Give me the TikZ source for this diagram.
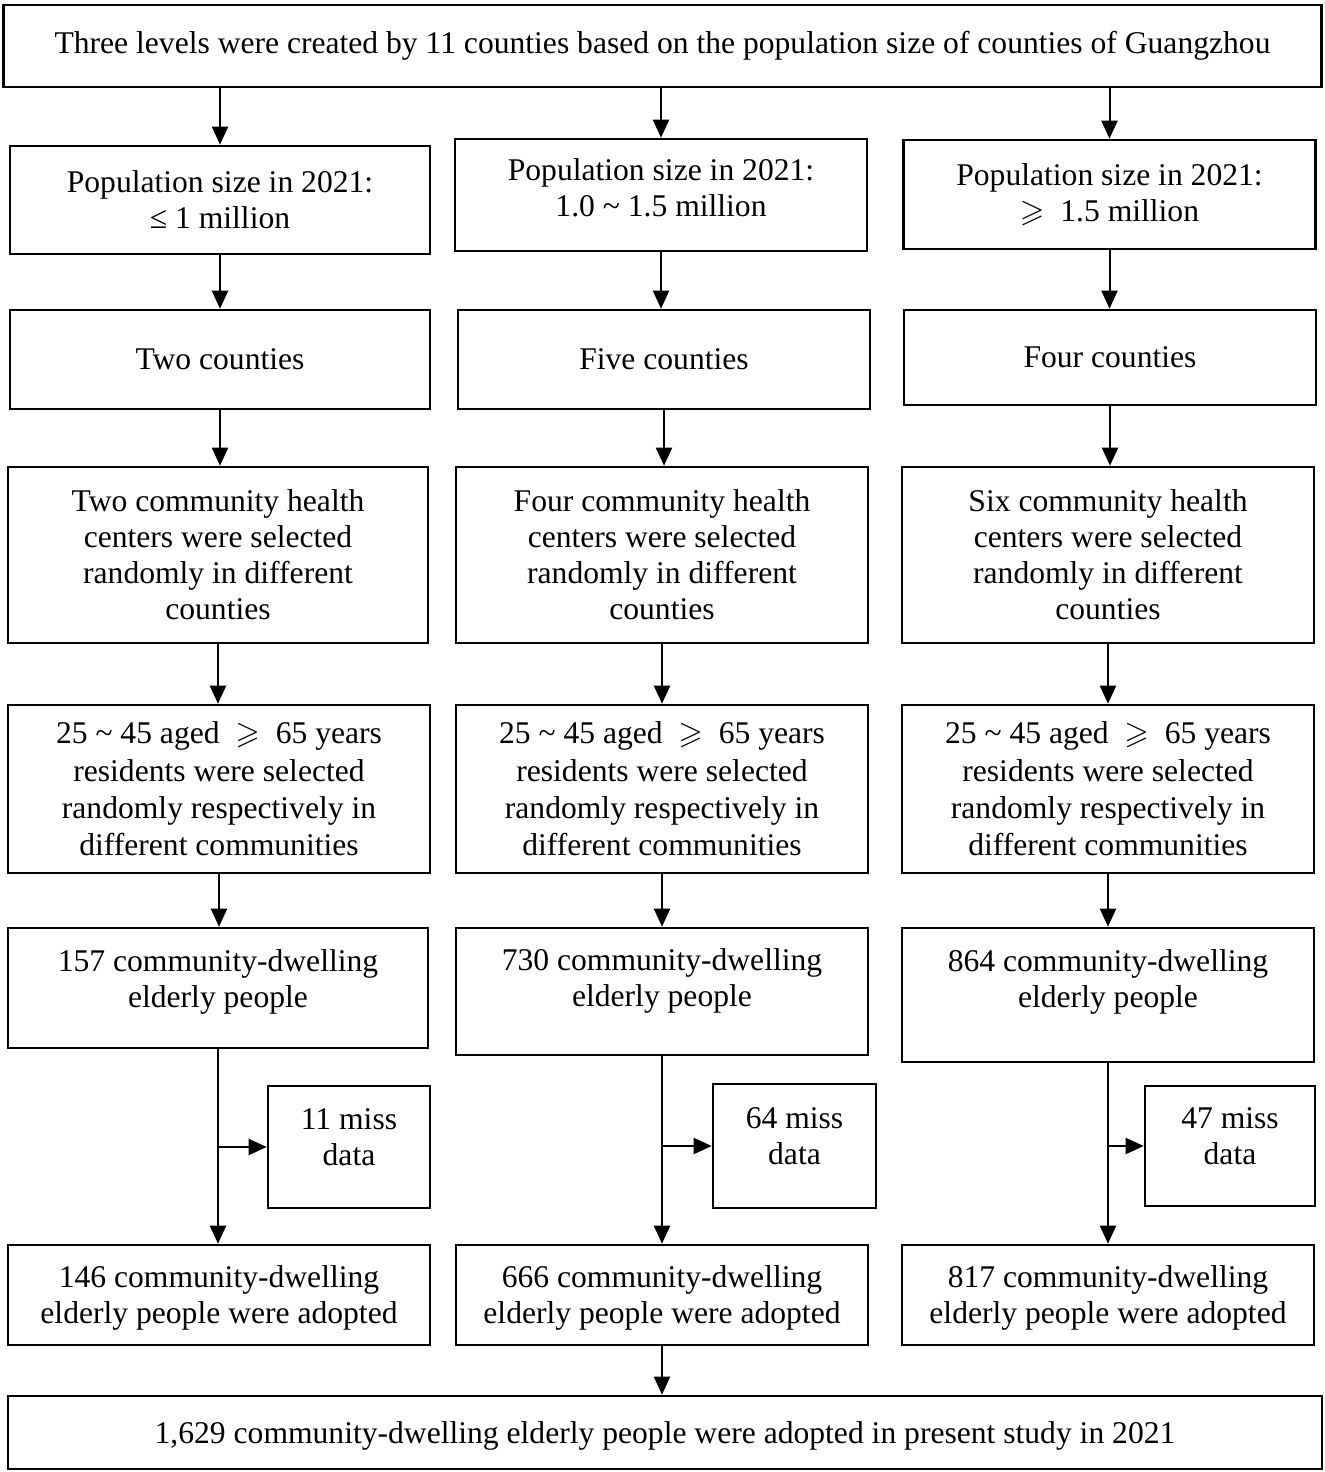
\documentclass[tikz,border=0pt]{standalone}
\usepackage{amssymb}
\usepackage{fontspec}
\setmainfont{Liberation Serif}
\usetikzlibrary{arrows.meta}

\tikzset{
	stagebox/.style={draw, line width=1.3pt, align=center, inner sep=2pt,
		font=\fontsize{15.8}{18}\selectfont},
	widebox/.style={stagebox, font=\fontsize{15.8}{18.7}\selectfont},
	flowarrow/.style={line width=1pt, -{Triangle[length=9pt,width=8pt]}}
}

\begin{document}
\begin{tikzpicture}[x=0.5pt, y=-0.5pt]
		\useasboundingbox (0,0) rectangle (1325,1472);
		
		%top box over all three columns
		\node[stagebox, minimum width=659pt, minimum height=41pt] (levels) at (662.5,46) {Three levels were created by 11 counties based on the population size of counties of Guangzhou};
		
		%first row: population sizes
		\node[stagebox, minimum width=210pt, minimum height=54pt] (popA) at (220,200) {Population size in 2021:\\ ≤ 1 million};
		\node[stagebox, minimum width=206pt, minimum height=56pt, text depth=7.5pt] (popB) at (661,195) {Population size in 2021:\\ 1.0 \textasciitilde{} 1.5 million};
		\node[stagebox, minimum width=206pt, minimum height=54.5pt] (popC) at (1109.5,194.5) {Population size in 2021:\\ $\geqslant$\ \ 1.5 million};
		
		%second row: number of counties
		\node[stagebox, minimum width=210pt, minimum height=49.5pt] (cntA) at (220,359.5) {Two counties};
		\node[stagebox, minimum width=206pt, minimum height=49.5pt] (cntB) at (664,359.5) {Five counties};
		\node[stagebox, minimum width=206pt, minimum height=47.5pt] (cntC) at (1110,357.5) {Four counties};
		
		%third row: health centers
		\node[stagebox, minimum width=210pt, minimum height=88pt] (hcA) at (218,555) {Two community health\\ centers were selected\\ randomly in different\\ counties};
		\node[stagebox, minimum width=206pt, minimum height=88pt] (hcB) at (662,555) {Four community health\\ centers were selected\\ randomly in different\\ counties};
		\node[stagebox, minimum width=206pt, minimum height=88pt] (hcC) at (1108,555) {Six community health\\ centers were selected\\ randomly in different\\ counties};
		
		%fourth row: residents (a little more line spacing)
		\node[widebox, minimum width=211pt, minimum height=84pt] (resA) at (219,789) {25 \textasciitilde{} 45 aged\ \ $\geqslant$\ \ 65 years\\ residents were selected\\ randomly respectively in\\ different communities};
		\node[widebox, minimum width=206pt, minimum height=84pt] (resB) at (662,789) {25 \textasciitilde{} 45 aged\ \ $\geqslant$\ \ 65 years\\ residents were selected\\ randomly respectively in\\ different communities};
		\node[widebox, minimum width=206pt, minimum height=84pt] (resC) at (1108,789) {25 \textasciitilde{} 45 aged\ \ $\geqslant$\ \ 65 years\\ residents were selected\\ randomly respectively in\\ different communities};
		
		%fifth row: elderly people, text sits high in the box
		\node[stagebox, minimum width=210pt, minimum height=60pt, text depth=9.5pt] (eldA) at (218,988) {157 community-dwelling\\ elderly people};
		\node[stagebox, minimum width=206pt, minimum height=63.5pt, text depth=13.5pt] (eldB) at (662,991.5) {730 community-dwelling\\ elderly people};
		\node[stagebox, minimum width=206pt, minimum height=67pt, text depth=16.5pt] (eldC) at (1108,995) {864 community-dwelling\\ elderly people};
		
		%side boxes: missing data
		\node[stagebox, minimum width=81pt, minimum height=61pt, text depth=9.5pt] (missA) at (349,1147) {11 miss\\ data};
		\node[stagebox, minimum width=81.5pt, minimum height=62pt, text depth=9.5pt] (missB) at (794.5,1146) {64 miss\\ data};
		\node[stagebox, minimum width=85pt, minimum height=60pt, text depth=9.5pt] (missC) at (1230,1146) {47 miss\\ data};
		
		%sixth row: adopted
		\node[stagebox, minimum width=211pt, minimum height=50pt, text depth=0pt] (adpA) at (219,1295) {146 community-dwelling\\ elderly people were adopted};
		\node[stagebox, minimum width=206pt, minimum height=50pt, text depth=0pt] (adpB) at (662,1295) {666 community-dwelling\\ elderly people were adopted};
		\node[stagebox, minimum width=206pt, minimum height=50pt, text depth=0pt] (adpC) at (1108,1295) {817 community-dwelling\\ elderly people were adopted};
		
		%bottom box
		\node[stagebox, minimum width=657pt, minimum height=36.5pt, text depth=0pt] (total) at (665,1432.5) {1,629 community-dwelling elderly people were adopted in present study in 2021};
		
		%arrows down each column
		\foreach \col in {A,B,C}{
			\draw[flowarrow] (levels.south -| pop\col) -- (pop\col.north);
			\draw[flowarrow] (pop\col.south) -- (pop\col.south |- cnt\col.north);
			\draw[flowarrow] (cnt\col.south) -- (cnt\col.south |- hc\col.north);
			\draw[flowarrow] (hc\col.south) -- (hc\col.south |- res\col.north);
			\draw[flowarrow] (res\col.south) -- (res\col.south |- eld\col.north);
			\draw[flowarrow] (eld\col.south) -- (eld\col.south |- adp\col.north);
			%branch to the missing data
			\draw[flowarrow] (eld\col.south |- miss\col.west) -- (miss\col.west);
		}
		\draw[flowarrow] (adpB.south) -- (adpB.south |- total.north);
	\end{tikzpicture}
\end{document}
